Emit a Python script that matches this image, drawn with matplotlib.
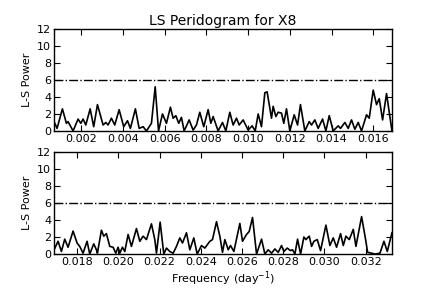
import numpy as np
import matplotlib
matplotlib.use("Agg")
import matplotlib.pyplot as plt

# upper panel: low-frequency half of the periodogram
freq_lo = [0.000688, 0.000832, 0.001088, 0.00128, 0.00136, 0.0016, 0.00184, 0.00197,
           0.00208, 0.00221, 0.00242, 0.00259, 0.00277, 0.00304, 0.00317, 0.00328,
           0.00344, 0.0036, 0.00381, 0.00403, 0.00421, 0.00435, 0.00459, 0.00477,
           0.00496, 0.00512, 0.00536, 0.00554, 0.0057, 0.00589, 0.00608, 0.00627,
           0.0064, 0.00653, 0.00667, 0.0068, 0.00693, 0.00717, 0.00736, 0.00752,
           0.00768, 0.00787, 0.00808, 0.00821, 0.00832, 0.00856, 0.00877, 0.00893,
           0.00912, 0.00928, 0.00944, 0.00957, 0.00976, 0.0100, 0.01019, 0.01034,
           0.01048, 0.01064, 0.0108, 0.01091, 0.01112, 0.0112, 0.01133, 0.01144,
           0.0116, 0.01171, 0.01184, 0.0120, 0.01221, 0.01237, 0.01251, 0.01272,
           0.01293, 0.01304, 0.0132, 0.01336, 0.01357, 0.01373, 0.01389, 0.01408,
           0.01432, 0.01443, 0.01464, 0.0148, 0.01496, 0.01512, 0.01528, 0.01544,
           0.01568, 0.01581, 0.0160, 0.01616, 0.01629, 0.01645, 0.01664, 0.0169]
power_lo = [1.1, 0.3, 2.6, 0.9, 1.1, 0.0, 1.4, 0.9,
            1.4, 0.7, 2.6, 0.5, 3.1, 0.7, 1.0, 0.7,
            1.5, 0.7, 2.5, 0.5, 1.2, 0.3, 2.6, 0.3,
            0.5, 0.0, 0.9, 5.2, 0.0, 2.0, 0.9, 2.8,
            1.5, 1.8, 0.9, 1.6, 0.0, 1.3, 0.1, 0.7,
            2.2, 0.5, 2.5, 0.9, 1.7, 0.0, 1.0, 0.0,
            2.2, 0.7, 1.5, 0.7, 1.3, 0.1, 0.6, 0.0,
            2.0, 0.5, 4.5, 4.6, 1.5, 2.9, 1.7, 2.2,
            2.1, 0.9, 2.6, 0.0, 1.9, 0.7, 3.1, 0.0,
            1.1, 0.7, 1.3, 0.3, 1.4, 0.0, 1.8, 0.0,
            0.6, 0.3, 1.0, 0.3, 1.3, 0.2, 1.0, 0.0,
            1.9, 1.5, 4.8, 3.1, 3.8, 1.3, 4.4, 0.0]

# lower panel: high-frequency half
freq_hi = [0.016884, 0.017078, 0.01724, 0.017401, 0.017563, 0.017806, 0.018, 0.018129,
           0.018291, 0.018485, 0.018615, 0.018809, 0.018938, 0.018987, 0.019181, 0.019294,
           0.019424, 0.019586, 0.019747, 0.019877, 0.01999, 0.020071, 0.0202, 0.020314,
           0.020476, 0.020637, 0.02088, 0.021042, 0.021204, 0.021365, 0.021608, 0.02177,
           0.021851, 0.022029, 0.022207, 0.022336, 0.022498, 0.02266, 0.022822, 0.022983,
           0.023113, 0.023307, 0.023469, 0.023663, 0.023825, 0.024035, 0.024197, 0.02444,
           0.024569, 0.024763, 0.024925, 0.025054, 0.025168, 0.02533, 0.025443, 0.025605,
           0.025896, 0.026025, 0.026219, 0.026349, 0.026511, 0.026705, 0.026948, 0.027109,
           0.027271, 0.027433, 0.027595, 0.027757, 0.027918, 0.028032, 0.028193, 0.028355,
           0.028452, 0.028566, 0.028695, 0.028841, 0.029002, 0.029099, 0.029261, 0.029375,
           0.029488, 0.02965, 0.029811, 0.03007, 0.030264, 0.030426, 0.030588, 0.030782,
           0.030912, 0.031041, 0.031203, 0.031397, 0.031526, 0.031801, 0.031996, 0.032093,
           0.032287, 0.032449, 0.032691, 0.032886, 0.033047, 0.033274]
power_hi = [0.5, 1.5, 0.3, 1.75, 0.8, 2.7, 1.3, 0.9,
            0.1, 1.5, 0.0, 1.2, 0.5, 0.1, 2.8, 2.1,
            2.4, 0.9, 0.8, 0.1, 0.8, 0.1, 0.8, 0.3,
            2.3, 0.9, 3.0, 1.5, 2.1, 1.7, 3.55, 1.7,
            0.1, 3.75, 0.0, 0.7, 0.3, 0.1, 0.9, 1.9,
            1.3, 2.5, 0.5, 1.9, 0.0, 1.0, 0.7, 1.5,
            1.7, 3.8, 2.1, 0.2, 1.7, 0.5, 1.0, 0.3,
            3.6, 1.5, 2.3, 2.65, 4.3, 0.0, 1.75, 0.0,
            0.5, 0.1, 0.6, 0.2, 1.0, 0.3, 0.7, 0.4,
            0.5, 0.0, 1.75, 0.0, 2.0, 1.7, 2.1, 0.9,
            1.5, 1.7, 0.4, 3.4, 1.0, 1.9, 0.8, 2.4,
            1.0, 2.1, 1.7, 2.9, 0.9, 4.4, 1.7, 0.2,
            0.1, 0.0, 0.1, 1.5, 0.3, 2.5]

threshold = 6.0
ticks_lo = [0.002, 0.004, 0.006, 0.008, 0.010, 0.012, 0.014, 0.016]
ticks_hi = [0.018, 0.020, 0.022, 0.024, 0.026, 0.028, 0.030, 0.032]

plt.rcParams['font.family'] = 'DejaVu Sans'
plt.rcParams['xtick.direction'] = 'in'
plt.rcParams['ytick.direction'] = 'in'
plt.rcParams['xtick.top'] = True
plt.rcParams['ytick.right'] = True
plt.rcParams['xtick.labelsize'] = 8
plt.rcParams['ytick.labelsize'] = 8

fig = plt.figure(figsize=(4.36, 2.91), dpi=100)
ax1 = fig.add_axes([0.124, 0.55, 0.775, 0.3503])
ax2 = fig.add_axes([0.124, 0.127, 0.775, 0.3507])

for ax, f, p, tk in [(ax1, freq_lo, power_lo, ticks_lo), (ax2, freq_hi, power_hi, ticks_hi)]:
    ax.plot(f, p, color='black', lw=1.2, solid_joinstyle='round')
    ax.axhline(threshold, color='black', ls='-.', lw=1.0)
    ax.set_xlim(f[0], f[-1])
    ax.set_ylim(0, 12)
    ax.set_yticks([0, 2, 4, 6, 8, 10, 12])
    ax.set_xticks(tk)
    ax.set_xticklabels(["%.3f" % t for t in tk])
    ax.set_ylabel("L-S Power", fontsize=8)
    ax.tick_params(length=4, width=0.8, pad=2)
    for s in ax.spines.values():
        s.set_linewidth(1.0)

ax1.set_title("LS Peridogram for X8", fontsize=10, pad=3)
ax2.set_xlabel(r"Frequency (day$^{-1}$)", fontsize=8, labelpad=2)

fig.savefig("out.png", dpi=100, facecolor='white')
